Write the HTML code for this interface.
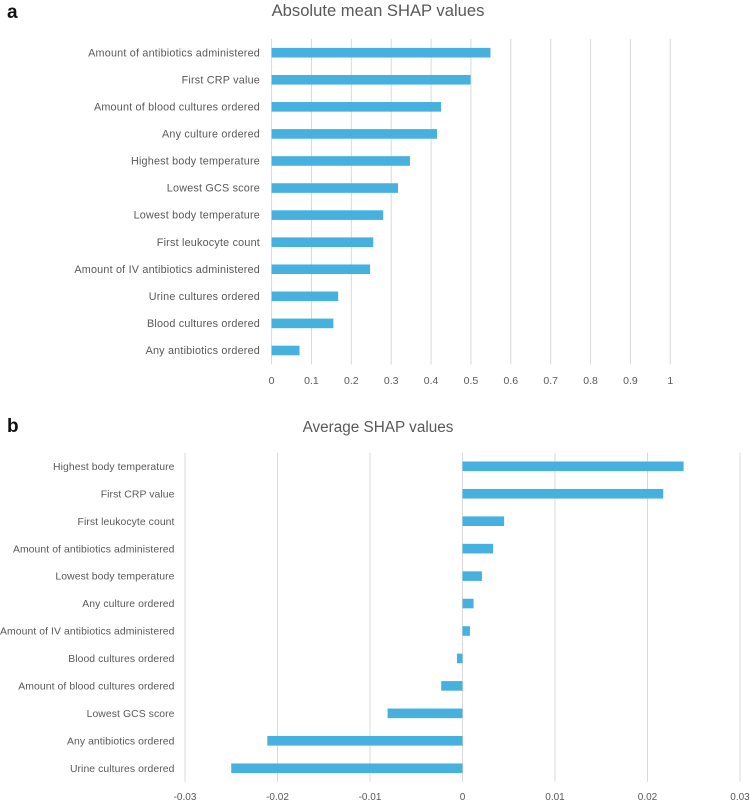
<!DOCTYPE html>
<html lang="en">
<head>
<meta charset="utf-8">
<title>SHAP values</title>
<style>
html,body{margin:0;padding:0;background:#fff;}
svg{display:block;font-family:"Liberation Sans",sans-serif;}
</style>
</head>
<body>
<svg id="chart" xmlns="http://www.w3.org/2000/svg" width="750" height="803" viewBox="0 0 750 803"></svg>
<script>
const categoriesA = ["Amount of antibiotics administered","First CRP value","Amount of blood cultures ordered","Any culture ordered","Highest body temperature","Lowest GCS score","Lowest body temperature","First leukocyte count","Amount of IV antibiotics administered","Urine cultures ordered","Blood cultures ordered","Any antibiotics ordered"];
const valuesA = [0.549,0.499,0.425,0.415,0.347,0.317,0.28,0.255,0.247,0.167,0.155,0.07];
const ticksA = [0,0.1,0.2,0.3,0.4,0.5,0.6,0.7,0.8,0.9,1];
const categoriesB = ["Highest body temperature","First CRP value","First leukocyte count","Amount of antibiotics administered","Lowest body temperature","Any culture ordered","Amount of IV antibiotics administered","Blood cultures ordered","Amount of blood cultures ordered","Lowest GCS score","Any antibiotics ordered","Urine cultures ordered"];
const valuesB = [0.0239,0.0217,0.0045,0.0033,0.0021,0.0012,0.0008,-0.0006,-0.0023,-0.0081,-0.0211,-0.025];
const ticksB = [-0.03,-0.02,-0.01,0,0.01,0.02,0.03];

const svg = document.getElementById('chart');
const NS = 'http://www.w3.org/2000/svg';
function make(tag, attrs, text) {
  const el = document.createElementNS(NS, tag);
  for (const k in attrs) el.setAttribute(k, attrs[k]);
  if (text !== undefined) el.textContent = text;
  svg.appendChild(el);
  return el;
}
function drawChart(prefix, cats, vals, ticks, dom, px, grid, rowFirst, rowStep, labelX, labelSize, labelSpacing, tickY, tickSize, title, titleX, titleY, titleSize) {
  const xScale = v => px[0] + (v - dom[0]) / (dom[1] - dom[0]) * (px[1] - px[0]);
  const yScale = i => rowFirst + i * rowStep;
  const t = make('text', {x: titleX, y: titleY, 'text-anchor': 'middle', 'font-size': titleSize, fill: '#595959'}, title);
  
  
  ticks.forEach(v => {
    const g = make('line', {x1: xScale(v), x2: xScale(v), y1: grid[0], y2: grid[1], stroke: '#d9d9d9', 'stroke-width': 1});
    
    
    const l = make('text', {x: xScale(v), y: tickY, 'text-anchor': 'middle', 'font-size': tickSize, fill: '#595959'}, String(v));
    
    
  });
  cats.forEach((c, i) => {
    const l = make('text', {x: labelX, y: yScale(i) + 3.6, 'text-anchor': 'end', 'font-size': labelSize, 'letter-spacing': labelSpacing, fill: '#595959'}, c);
    
    
    const x0 = xScale(0), x1 = xScale(vals[i]);
    const b = make('rect', {x: Math.min(x0, x1), y: yScale(i) - 4.8, width: Math.abs(x1 - x0), height: 9.6, fill: '#46b0df'});
    
    
  });
}
drawChart('absolute-mean', categoriesA, valuesA, ticksA, [0,1], [271.6,670.3], [39,364.5], 52.7, 27.07, 260, 10.8, 0.2, 384, 10.5, 'Absolute mean SHAP values', 378, 16, 16.6);
drawChart('average', categoriesB, valuesB, ticksB, [-0.03,0.03], [185,740], [452.7,781.7], 466.3, 27.45, 174.5, 10.4, 0.08, 800, 10, 'Average SHAP values', 378, 432, 15.3);

const pa = make('text', {x: 7, y: 18, 'font-size': 19, 'font-weight': 'bold', fill: '#111'}, 'a');


const pb = make('text', {x: 7, y: 432, 'font-size': 19, 'font-weight': 'bold', fill: '#111'}, 'b');


</script>
</body>
</html>
